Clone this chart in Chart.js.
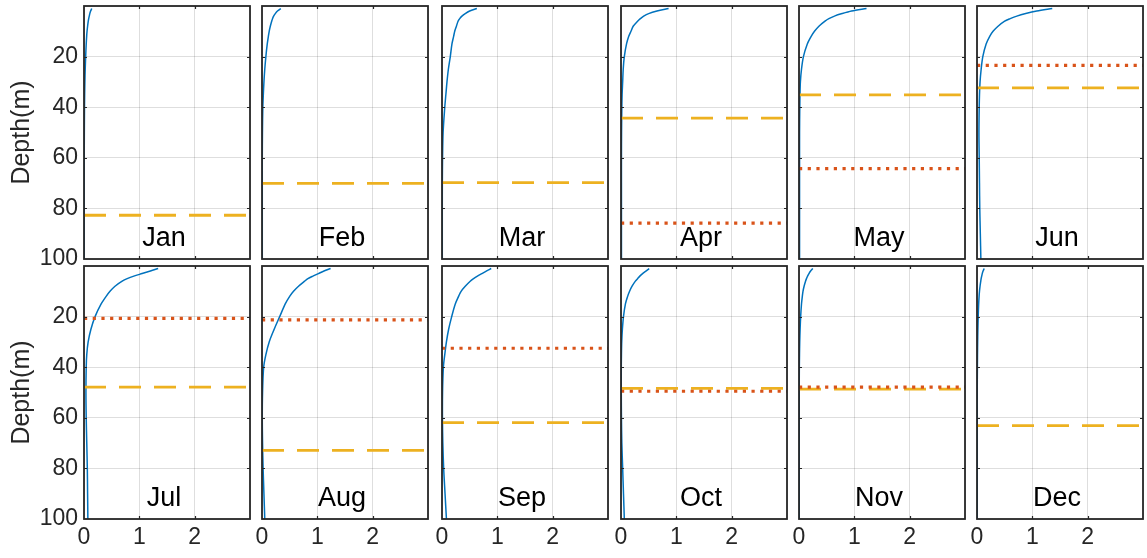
<!DOCTYPE html>
<html><head><meta charset="utf-8">
<script src="https://cdn.jsdelivr.net/npm/chart.js@4"></script>
<style>
html,body{margin:0;padding:0;background:#fff;width:1147px;height:558px;overflow:hidden}
body{position:relative}
canvas{position:absolute}
</style></head><body>
<script>
// ---- data ----
const months = ['Jan','Feb','Mar','Apr','May','Jun','Jul','Aug','Sep','Oct','Nov','Dec'];
const depths = [1,2,3,4,5,6,8,10,12,15,20,25,30,35,40,50,60,70,80,90,100];
const profileJan = [0.14,0.12,0.105,0.095,0.085,0.077,0.065,0.055,0.048,0.04,0.03,0.022,0.016,0.012,0.009,0.006,0.004,0.003,0.003,0.003,0.003];
const profileFeb = [0.34,0.28,0.24,0.21,0.19,0.175,0.15,0.13,0.115,0.095,0.07,0.05,0.035,0.024,0.015,0.008,0.005,0.005,0.005,0.005,0.005];
const profileMar = [0.63,0.50,0.42,0.36,0.32,0.29,0.26,0.23,0.21,0.18,0.15,0.115,0.09,0.07,0.05,0.02,0.01,0.006,0.005,0.005,0.005];
const profileApr = [0.86,0.65,0.50,0.41,0.35,0.30,0.22,0.18,0.14,0.10,0.06,0.04,0.03,0.02,0.015,0.01,0.008,0.008,0.008,0.008,0.008];
const profileMay = [1.22,0.95,0.78,0.64,0.54,0.47,0.36,0.28,0.22,0.15,0.08,0.045,0.025,0.018,0.014,0.01,0.01,0.01,0.01,0.01,0.01];
const profileJun = [1.36,1.08,0.88,0.72,0.60,0.50,0.38,0.29,0.23,0.165,0.105,0.075,0.055,0.045,0.04,0.035,0.04,0.045,0.05,0.06,0.07];
const profileJul = [1.34,1.20,1.05,0.90,0.78,0.69,0.56,0.47,0.40,0.31,0.20,0.125,0.075,0.05,0.04,0.035,0.04,0.05,0.06,0.065,0.07];
const profileAug = [1.24,1.12,1.02,0.92,0.83,0.77,0.66,0.57,0.50,0.42,0.32,0.22,0.13,0.07,0.03,0.01,0.005,0.01,0.02,0.035,0.05];
const profileSep = [0.89,0.80,0.72,0.64,0.57,0.51,0.42,0.345,0.30,0.24,0.175,0.12,0.08,0.05,0.025,0.01,0.008,0.015,0.03,0.055,0.08];
const profileOct = [0.51,0.45,0.39,0.34,0.30,0.26,0.20,0.155,0.12,0.08,0.045,0.025,0.013,0.008,0.005,0.005,0.008,0.015,0.03,0.045,0.06];
const profileNov = [0.25,0.21,0.18,0.155,0.135,0.118,0.092,0.072,0.06,0.045,0.03,0.02,0.013,0.009,0.006,0.004,0.004,0.004,0.004,0.004,0.004];
const profileDec = [0.13,0.11,0.095,0.085,0.075,0.068,0.055,0.045,0.038,0.03,0.022,0.016,0.012,0.009,0.007,0.004,0.004,0.004,0.004,0.004,0.004];
const depthDashed = [82.7,70.1,69.8,44.3,35.1,32.4,47.9,72.9,61.9,48.4,48.7,63.1];
const depthDotted = [null,null,null,85.8,64.3,23.5,20.7,21.3,32.5,49.5,47.9,null];
const xTicks = [0,1,2,3];
const yTicks = [0,20,40,60,80,100];
const xRange = [0,3];
const yRange = [0,100];
const profiles = [profileJan,profileFeb,profileMar,profileApr,profileMay,profileJun,profileJul,profileAug,profileSep,profileOct,profileNov,profileDec];

// ---- layout ----
const colLefts = [84,262,442,621,799,977];
const rowTops = [6,266];
const PW = 166, PH = 253;
const ML = 84, MT = 30, MR = 14, MB = 40;
const FONT = "'Liberation Sans', Arial, sans-serif";
const AX = '#262626';

function hline(d){ return [{x:xRange[0],y:d},{x:xRange[1],y:d}]; }

months.forEach((m, i) => {
  const row = Math.floor(i/6), col = i%6;
  const cv = document.createElement('canvas');
  const W = ML+PW+MR, H = MT+PH+MB;
  cv.width = W; cv.height = H;
  cv.style.left = (colLefts[col]-ML)+'px';
  cv.style.top = (rowTops[row]-MT)+'px';
  cv.style.width = W+'px'; cv.style.height = H+'px';
  document.body.appendChild(cv);

  const datasets = [];
  if (depthDotted[i] !== null) datasets.push({
    data: hline(depthDotted[i]), borderColor:'#D95319', borderWidth:3.2,
    borderDash:[3.2,5.5], borderCapStyle:'butt', pointRadius:0, showLine:true
  });
  datasets.push({
    data: hline(depthDashed[i]), borderColor:'#EDB120', borderWidth:2.8,
    borderDash:[22,13], borderCapStyle:'butt', pointRadius:0, showLine:true
  });
  datasets.push({
    data: depths.map((d,k)=>({x:profiles[i][k], y:d})), borderColor:'#0072BD',
    borderWidth:1.5, pointRadius:0, showLine:true, tension:0.3
  });

  const panelPlugin = {
    id:'panel'+i,
    afterDatasetsDraw(chart){
      const ctx = chart.ctx, a = chart.chartArea;
      ctx.save();
      ctx.fillStyle = '#000';
      ctx.font = '27px '+FONT;
      ctx.textAlign = 'center'; ctx.textBaseline = 'alphabetic';
      ctx.fillText(m, (a.left+a.right)/2 - 3, a.top + 240);
      ctx.restore();
    },
    afterDraw(chart){
      const ctx = chart.ctx, a = chart.chartArea;
      const xs = chart.scales.x, ys = chart.scales.y;
      ctx.save();
      ctx.strokeStyle = AX; ctx.lineWidth = 1.2;
      ctx.beginPath();
      yTicks.forEach(v => {
        if (v===yRange[0] || v===yRange[1]) return;
        const p = Math.round(ys.getPixelForValue(v))+0.5;
        ctx.moveTo(a.left, p); ctx.lineTo(a.left+3, p);
        ctx.moveTo(a.right, p); ctx.lineTo(a.right-3, p);
      });
      xTicks.forEach(v => {
        if (v===xRange[0] || v===xRange[1]) return;
        const p = Math.round(xs.getPixelForValue(v))+0.5;
        ctx.moveTo(p, a.top); ctx.lineTo(p, a.top+3);
        ctx.moveTo(p, a.bottom); ctx.lineTo(p, a.bottom-3);
      });
      ctx.stroke();
      ctx.lineWidth = 1.8;
      ctx.strokeRect(a.left, a.top, a.right-a.left, a.bottom-a.top);
      if (col === 0) {
        ctx.fillStyle = AX;
        ctx.font = '25px '+FONT;
        ctx.textAlign = 'center'; ctx.textBaseline = 'middle';
        ctx.translate(22, (a.top+a.bottom)/2);
        ctx.rotate(-Math.PI/2);
        ctx.fillText('Depth(m)', 0, 0);
      }
      ctx.restore();
    }
  };

  new Chart(cv, {
    type:'scatter',
    data:{datasets},
    plugins:[panelPlugin],
    options:{
      responsive:false, animation:false, devicePixelRatio:1,
      layout:{padding:{top:MT,right:MR,left:0,bottom:0}},
      plugins:{legend:{display:false}, tooltip:{enabled:false}},
      events:[],
      scales:{
        x:{
          type:'linear', min:xRange[0], max:xRange[1],
          afterBuildTicks:s=>{ s.ticks = xTicks.map(v=>({value:v})); },
          afterFit:s=>{ s.height = MB; },
          grid:{color:'rgba(0,0,0,0.13)', lineWidth:1, drawTicks:false},
          border:{display:false},
          ticks:{display: row===1, padding:5, color:AX, maxRotation:0, autoSkip:false,
                 font:{family:FONT, size:23},
                 callback:v => v===xRange[1] ? '' : String(v)}
        },
        y:{
          type:'linear', reverse:true, min:yRange[0], max:yRange[1],
          afterBuildTicks:s=>{ s.ticks = yTicks.map(v=>({value:v})); },
          afterFit:s=>{ s.width = ML; },
          grid:{color:'rgba(0,0,0,0.13)', lineWidth:1, drawTicks:false},
          border:{display:false},
          ticks:{display: col===0, padding:6, color:AX, autoSkip:false,
                 font:{family:FONT, size:23},
                 callback:v => v===yRange[0] ? '' : String(v)}
        }
      }
    }
  });
});
</script>
</body></html>
